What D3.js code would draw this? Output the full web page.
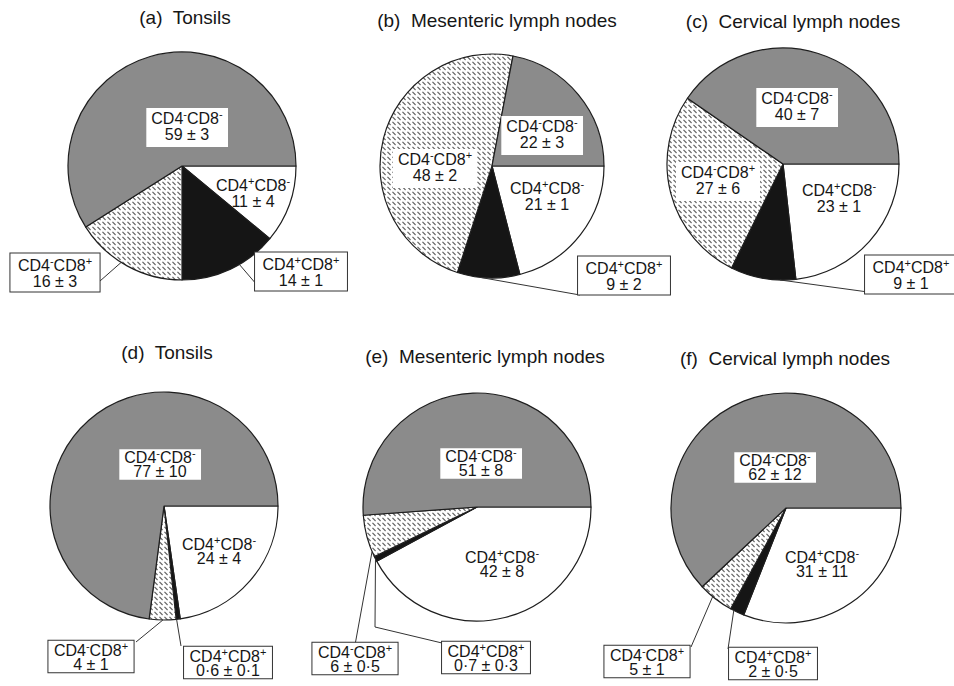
<!DOCTYPE html>
<html>
<head>
<meta charset="utf-8">
<script src="https://cdn.jsdelivr.net/npm/d3@7"></script>
<style>
  html, body { margin: 0; padding: 0; background: #fff; }
  svg { display: block; }
  text { font-family: "Liberation Sans", Arial, Helvetica, sans-serif; fill: #161616; }
</style>
</head>
<body>
<svg id="chart" width="954" height="686"></svg>
<script>
// T-cell subsets, listed clockwise from three o'clock
const categories = ["CD4+CD8-", "CD4+CD8+", "CD4-CD8+", "CD4-CD8-"];

const panelTitles = [
  "(a)  Tonsils",
  "(b)  Mesenteric lymph nodes",
  "(c)  Cervical lymph nodes",
  "(d)  Tonsils",
  "(e)  Mesenteric lymph nodes",
  "(f)  Cervical lymph nodes"
];

// Mean percentages and their errors, one pair of arrays per panel
const tonsilsTop    = [11, 14, 16, 59];
const tonsilsTopErr = [4, 1, 3, 3];
const mesTop        = [21, 9, 48, 22];
const mesTopErr     = [1, 2, 2, 3];
const cervTop       = [23, 9, 27, 40];
const cervTopErr    = [1, 1, 6, 7];
const tonsilsBot    = [24, 0.6, 4, 77];
const tonsilsBotErr = [4, 0.1, 1, 10];
const mesBot        = [42, 0.7, 6, 51];
const mesBotErr     = [8, 0.3, 0.5, 8];
const cervBot       = [31, 2, 5, 62];
const cervBotErr    = [11, 0.5, 1, 12];

const panelValues = [tonsilsTop, mesTop, cervTop, tonsilsBot, mesBot, cervBot];
const panelErrors = [tonsilsTopErr, mesTopErr, cervTopErr, tonsilsBotErr, mesBotErr, cervBotErr];

// Slice fills per subset
const fills = {
  "CD4+CD8-": "#ffffff",
  "CD4+CD8+": "#151515",
  "CD4-CD8+": "url(#hatch)",
  "CD4-CD8-": "#8b8b8b"
};

// Row settings: line gap, and box paddings [top, bottom, side] for inner / outer labels
const rowStyle = [
  { gap: 16.5, padIn: [4, 7, 5], padOut: [6, 5, 8] },
  { gap: 14,   padIn: [2, 3, 5], padOut: [4, 3, 6] }
];

// Placement of each pie and its labels (label x,y = centre of the two-line block)
const panelLayout = [
  { cx: 182, cy: 166, r: 114, tx: 185, ty: 24, row: 0, labels: [
      { x: 253, y: 193 },
      { x: 301, y: 272, outer: true, at: 0.4,  path: [[257, 285]] },
      { x: 55,  y: 273, outer: true, at: 0.56, path: [[100, 281]] },
      { x: 187, y: 126, box: true } ] },
  { cx: 492, cy: 166, r: 112, tx: 497, ty: 27, row: 0, labels: [
      { x: 547, y: 196 },
      { x: 624, y: 276, outer: true, at: 0.63, path: [[580, 295]] },
      { x: 435, y: 167, box: true },
      { x: 542, y: 134, box: true } ] },
  { cx: 783, cy: 164, r: 116, tx: 793, ty: 28, row: 0, labels: [
      { x: 839, y: 198 },
      { x: 911, y: 275, outer: true, at: 0.24, path: [[868, 292]] },
      { x: 718, y: 180, box: true },
      { x: 797, y: 106, box: true } ] },
  { cx: 164, cy: 506, r: 114, tx: 167, ty: 359, row: 1, labels: [
      { x: 219, y: 551 },
      { x: 228, y: 663, outer: true, at: 0.9,  path: [[181, 646]] },
      { x: 91,  y: 657, outer: true, at: 0.49, path: [[136, 642]] },
      { x: 160, y: 464, box: true } ] },
  { cx: 477, cy: 507, r: 114, tx: 485, ty: 363, row: 1, labels: [
      { x: 502, y: 564 },
      { x: 486, y: 658, outer: true, at: 0.5,  path: [[375, 627], [442, 643]] },
      { x: 355, y: 659, outer: true, at: 0.13, path: [[355, 645]] },
      { x: 481, y: 463, box: true } ] },
  { cx: 786, cy: 508, r: 115, tx: 785, ty: 365, row: 1, labels: [
      { x: 822, y: 564 },
      { x: 773, y: 664, outer: true, at: 0.75, path: [[728, 649]] },
      { x: 647, y: 662, outer: true, at: 0.6,  path: [[691, 647]] },
      { x: 775, y: 467, box: true } ] }
];

const svg = d3.select("#chart");

// Diagonal dash texture for the CD4-CD8+ slices
const defs = svg.append("defs");
const hatch = defs.append("pattern")
  .attr("id", "hatch")
  .attr("patternUnits", "userSpaceOnUse")
  .attr("width", 5).attr("height", 5);
hatch.append("rect").attr("width", 5).attr("height", 5).attr("fill", "#ffffff");
hatch.append("path").attr("d", "M0.8,1.2 L3.2,3.6")
  .attr("stroke", "#666").attr("stroke-width", 1.1).attr("stroke-linecap", "square");

const pie = d3.pie()
  .sort(null)
  .value(d => d.value)
  .startAngle(Math.PI / 2)
  .endAngle(Math.PI / 2 + 2 * Math.PI);

const fmt = v => String(v).replace(".", "\u00B7");
const FONT = 16;
const CAP = 11.5;

// Two-line label: subset name with superscript signs, then mean ± error
function drawLabel(g, cat, valueText, lx, ly, gap) {
  const b1 = ly - gap / 2 + CAP / 2;
  const b2 = b1 + gap;
  const t = g.append("text").attr("text-anchor", "middle").attr("font-size", FONT);
  const parts = cat.match(/CD[48]|[+-]/g);
  const first = t.append("tspan").attr("x", lx).attr("y", b1);
  let shift = 0;
  parts.forEach((p, i) => {
    const sup = p === "+" || p === "-";
    const span = i === 0 ? first : t.append("tspan");
    const dy = sup ? -6 : (shift ? 6 : 0);
    shift = sup ? 1 : 0;
    span.attr("dy", dy).attr("font-size", sup ? 11 : FONT).text(p);
  });
  t.append("tspan").attr("x", lx).attr("y", b2).attr("font-size", FONT).text(valueText);
  return { node: t, capTop: b1 - CAP, base: b2 };
}

panelLayout.forEach((L, pi) => {
  const style = rowStyle[L.row];
  const data = categories.map((c, i) => ({
    cat: c, value: panelValues[pi][i], err: panelErrors[pi][i]
  }));
  const arcs = pie(data);
  const arc = d3.arc().innerRadius(0).outerRadius(L.r);

  const g = svg.append("g");

  // Title
  g.append("text")
    .attr("x", L.tx).attr("y", L.ty)
    .attr("text-anchor", "middle")
    .attr("font-size", 19)
    .style("white-space", "pre")
    .text(panelTitles[pi]);

  // Slices
  const pieG = g.append("g").attr("transform", `translate(${L.cx},${L.cy})`);
  pieG.selectAll("path")
    .data(arcs)
    .join("path")
    .attr("d", arc)
    .attr("fill", d => fills[d.data.cat])
    .attr("stroke", "#1e1e1e")
    .attr("stroke-width", 1.2)
    .attr("stroke-linejoin", "round");

  // Labels
  arcs.forEach((a, i) => {
    const spec = L.labels[i];
    const lg = g.append("g");
    const valueText = fmt(a.data.value) + " \u00B1 " + fmt(a.data.err);

    if (spec.outer) {
      const ang = a.startAngle + spec.at * (a.endAngle - a.startAngle);
      const start = [L.cx + L.r * Math.sin(ang), L.cy - L.r * Math.cos(ang)];
      lg.append("path")
        .attr("d", d3.line()([start, ...spec.path]))
        .attr("fill", "none")
        .attr("stroke", "#333")
        .attr("stroke-width", 1);
    }

    const lab = drawLabel(lg, a.data.cat, valueText, spec.x, spec.y, style.gap);

    if (spec.box || spec.outer) {
      const pad = spec.outer ? style.padOut : style.padIn;
      const bb = lab.node.node().getBBox();
      lg.insert("rect", "text")
        .attr("x", bb.x - pad[2])
        .attr("y", lab.capTop - pad[0])
        .attr("width", bb.width + 2 * pad[2])
        .attr("height", lab.base - lab.capTop + pad[0] + pad[1])
        .attr("fill", "#fff")
        .attr("stroke", spec.outer ? "#333" : "none")
        .attr("stroke-width", 1);
    }
  });
});
</script>
</body>
</html>
